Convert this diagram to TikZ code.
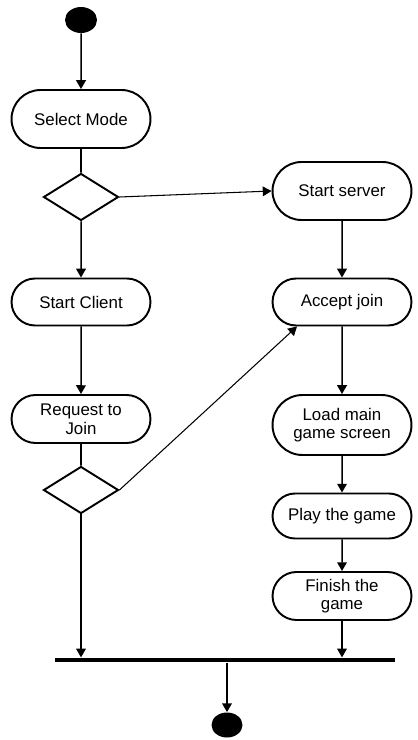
\documentclass[tikz,border=0pt]{standalone}
\usepackage{fontspec}
\setmainfont{Liberation Sans}
\usetikzlibrary{arrows.meta,shapes.geometric,shapes.misc,positioning}

\begin{document}
\begin{tikzpicture}[x=0.02cm, y=-0.02cm, >={Triangle[width=5.5pt,length=5pt]},
  act/.style={draw, line width=1.1pt, rounded rectangle, minimum width=2.92cm,
    align=center, inner sep=2pt, font=\fontsize{9.6}{10.6}\selectfont},
  decide/.style={draw, line width=1.1pt, diamond, minimum width=1.5cm,
    minimum height=0.94cm, inner sep=0pt},
  flow/.style={line width=0.85pt, ->},
  dot/.style={fill, ellipse, inner sep=0pt}] % pixel units
        \useasboundingbox (0,0) rectangle (417,740);
        \path
        (81,20)   coordinate (s0)
        (81,119)  coordinate (s1)
        (81,197)  coordinate (s2)
        (342,191) coordinate (s3)
        (81,302)  coordinate (s4)
        (342,302) coordinate (s5)
        (81,419)  coordinate (s6)
        (81,490)  coordinate (s7)
        (342,425) coordinate (s8)
        (342,516) coordinate (s9)
        (342,596) coordinate (s10)
        (225,660) coordinate (s11)
        (227,725) coordinate (s12)
        ;

        \path
        (s0)  node[dot, minimum width=0.64cm, minimum height=0.52cm] (start) {}
        (s1)  node[act, minimum height=1.16cm] (select) {Select Mode}
        (s2)  node[decide] (d1) {}
        (s3)  node[act, minimum height=1.16cm] (server) {Start server}
        (s4)  node[act, minimum height=0.94cm] (client) {Start Client}
        (s5)  node[act, minimum height=0.94cm] (accept) {Accept join}
        (s6)  node[act, minimum height=0.96cm] (request) {Request to\\Join}
        (s7)  node[decide] (d2) {}
        (s8)  node[act, minimum height=1.2cm] (load) {Load main\\game screen}
        (s9)  node[act, minimum height=0.9cm] (play) {Play the game}
        (s10) node[act, minimum height=0.96cm] (finish) {Finish the\\game}
        (s11) node[fill, minimum width=6.8cm, minimum height=0.09cm, inner sep=0pt] (bar) {}
        (s12) node[dot, minimum width=0.62cm, minimum height=0.5cm] (end) {}
        ;

\draw[flow] (start) -- (select);
\draw[line width=1.1pt] (select) -- (d1);
\draw[flow, line width=0.6pt] (d1.east) -- (server.west);
\draw[flow] (d1) -- (client);
\draw[flow] (server) -- (accept);
\draw[flow] (client) -- (request);
\draw[line width=1.1pt] (request) -- (d2);
\draw[flow, line width=0.6pt] (d2.east) -- ([xshift=-0.9cm]accept.south);
\draw[flow] (accept) -- (load);
\draw[flow] (load) -- (play);
\draw[flow] (play) -- (finish);
\draw[flow] (d2.south) -- (d2.south |- bar.north);
\draw[flow] (finish.south) -- (finish.south |- bar.north);
\draw[flow] (bar.south -| end) -- (end);
\end{tikzpicture}
\end{document}
